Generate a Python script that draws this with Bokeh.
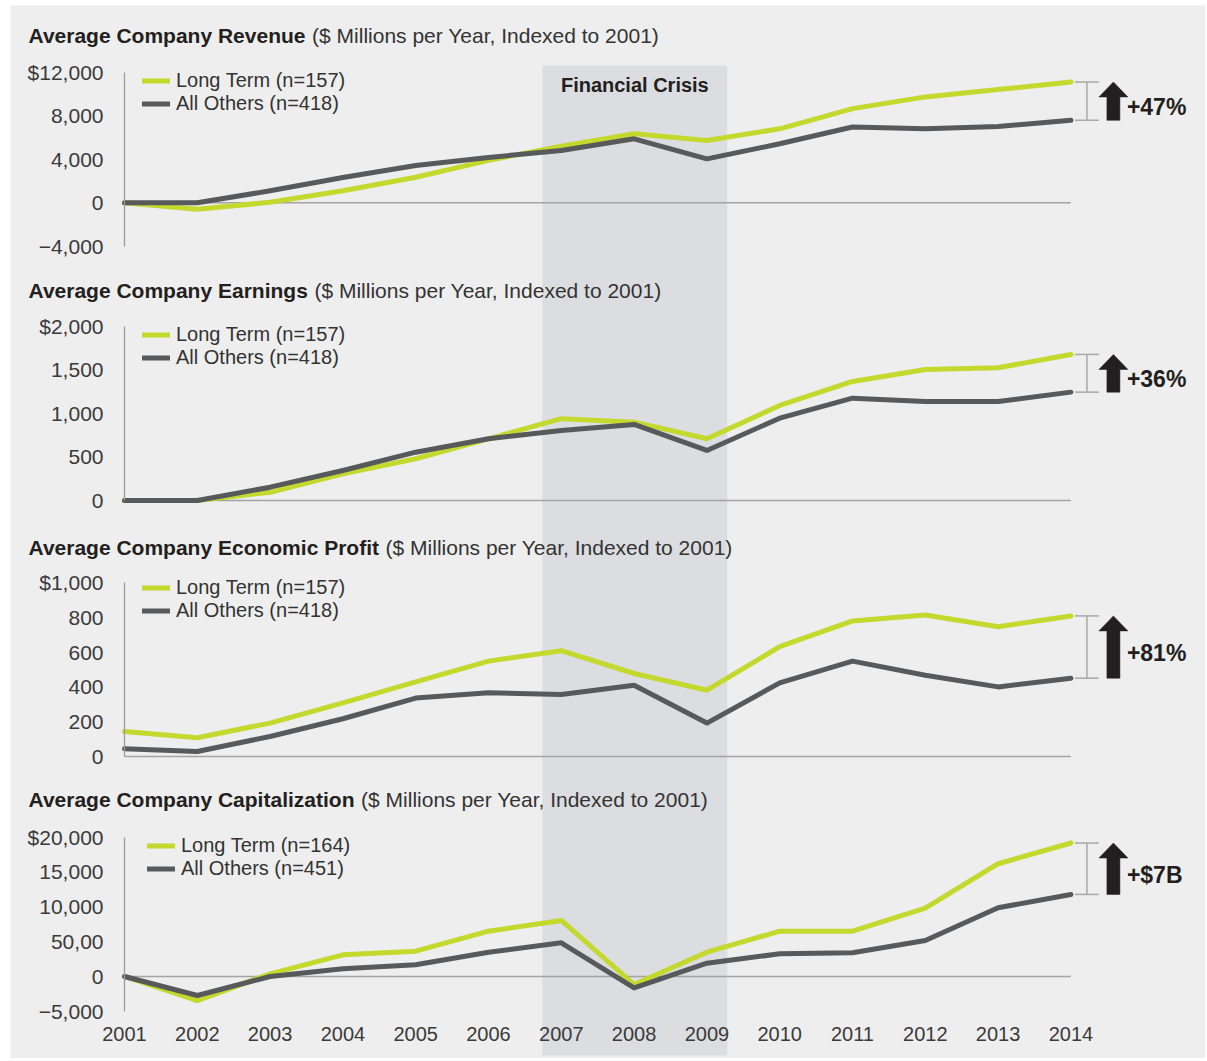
from bokeh.plotting import figure
from bokeh.models import (Range1d, FixedTicker, BoxAnnotation, Label, Legend,
                          LegendItem, LinearAxis)
from bokeh.embed import file_html
from bokeh.resources import INLINE

# ---------------- data ----------------
years = [2001, 2002, 2003, 2004, 2005, 2006, 2007, 2008, 2009, 2010, 2011, 2012, 2013, 2014]

revenue_long = [0, -600, 50, 1100, 2350, 3900, 5200, 6340, 5730, 6800, 8650, 9730, 10400, 11100]
revenue_others = [0, 0, 1100, 2330, 3430, 4170, 4800, 5880, 4040, 5420, 6960, 6800, 7020, 7580]

earnings_long = [0, 0, 95, 307, 480, 709, 940, 900, 709, 1092, 1368, 1506, 1525, 1678]
earnings_others = [0, 0, 153, 345, 555, 709, 805, 874, 575, 946, 1176, 1138, 1138, 1245]

profit_long = [144, 108, 192, 308, 429, 548, 608, 477, 381, 631, 779, 813, 746, 808]
profit_others = [44, 29, 115, 217, 336, 367, 356, 410, 192, 423, 548, 467, 400, 450]

cap_long = [0, -3450, 380, 3110, 3630, 6500, 8040, -1150, 3490, 6500, 6500, 9800, 16170, 19140]
cap_others = [0, -2730, 0, 1100, 1680, 3490, 4830, -1630, 1910, 3250, 3400, 5170, 9860, 11770]

title_bold = ["Average Company Revenue", "Average Company Earnings",
              "Average Company Economic Profit", "Average Company Capitalization"]
title_rest = "($ Millions per Year, Indexed to 2001)"

y_ticks = [[-4000, 0, 4000, 8000, 12000],
           [0, 500, 1000, 1500, 2000],
           [0, 200, 400, 600, 800, 1000],
           [-5000, 0, 5000, 10000, 15000, 20000]]
y_tick_labels = [["\u22124,000", "0", "4,000", "8,000", "$12,000"],
                 ["0", "500", "1,000", "1,500", "$2,000"],
                 ["0", "200", "400", "600", "800", "$1,000"],
                 ["\u22125,000", "0", "50,00", "10,000", "15,000", "$20,000"]]

legend_long = ["Long Term (n=157)", "Long Term (n=157)", "Long Term (n=157)", "Long Term (n=164)"]
legend_others = ["All Others (n=418)", "All Others (n=418)", "All Others (n=418)", "All Others (n=451)"]
gap_labels = ["+47%", "+36%", "+81%", "+$7B"]

crisis_start = 2006.74
crisis_end = 2009.28
crisis_label = "Financial Crisis"

series_long = [revenue_long, earnings_long, profit_long, cap_long]
series_others = [revenue_others, earnings_others, profit_others, cap_others]

# ---------------- style / layout ----------------
FONT = "Liberation Sans"
BG = "#eeeeee"
GREEN = "#c4d82e"
DARK = "#58595b"
SHADE = "#dcdde0"
TXT = "#231f20"
TICK_TXT = "#3a3a3a"
RULE = "#a4a4a4"

# gray panel occupies page x 10..1205, y 5..1058
PAGE_L, PAGE_R, PAGE_T, PAGE_B = 10, 1205, 5, 1058
AXIS_X_PAGE = 124            # page x of the first year
PX_PER_YEAR = 72.8
X_START = years[0] - (AXIS_X_PAGE - PAGE_L) / PX_PER_YEAR
X_END = years[0] + (PAGE_R - AXIS_X_PAGE) / PX_PER_YEAR

# per panel: page y of zero, data units per pixel, title centre y,
# first legend row centre y, legend swatch left x (all page pixels)
panels = [
    dict(zero=202.3, upp=91.88, title=35, leg=80, legx=142),
    dict(zero=500.0, upp=11.49, title=290, leg=334, legx=142),
    dict(zero=756.0, upp=5.747, title=547, leg=587, legx=142),
    dict(zero=976.0, upp=143.4, title=799, leg=845, legx=147),
]

BOLD_W = {" ": 278, "A": 722, "C": 722, "E": 667, "P": 667, "R": 722, "a": 556,
          "c": 556, "e": 556, "f": 333, "g": 611, "i": 278, "l": 278, "m": 889,
          "n": 611, "o": 611, "p": 611, "r": 389, "s": 556, "t": 333, "u": 611,
          "v": 556, "y": 556, "z": 500}
TITLE_SIZE = 21


def bold_width(s, size):
    return sum(BOLD_W.get(ch, 556) for ch in s) / 1000.0 * size


def px_x(page_x):
    return years[0] + (page_x - AXIS_X_PAGE) / PX_PER_YEAR


# the default y range is the page itself (pixels, downward); each panel gets its own range
p = figure(width=PAGE_R, height=PAGE_B, output_backend="svg", toolbar_location=None,
           x_range=Range1d(X_START, X_END), y_range=Range1d(PAGE_B, PAGE_T),
           x_axis_location=None, y_axis_location=None,
           min_border_left=PAGE_L, min_border_right=0, min_border_top=PAGE_T,
           min_border_bottom=0, outline_line_color=None,
           background_fill_color=BG, border_fill_color="white")
p.grid.visible = False

# crisis band across all panels
p.add_layout(BoxAnnotation(left=crisis_start, right=crisis_end, top=65, bottom=1055,
                           fill_color=SHADE, fill_alpha=1.0, line_alpha=0, level="underlay"))

p.add_layout(Label(x=(crisis_start + crisis_end) / 2, y=84, text=crisis_label,
                   text_font=FONT, text_font_size="20px", text_font_style="bold",
                   text_color=TXT, text_align="center", text_baseline="middle"))

for i, cfg in enumerate(panels):
    name = f"panel{i}"
    upp = cfg["upp"]
    p.extra_y_ranges[name] = Range1d((cfg["zero"] - PAGE_B) * upp, (cfg["zero"] - PAGE_T) * upp)

    # y axis at the first year
    yax = LinearAxis(y_range_name=name, fixed_location=years[0],
                     ticker=FixedTicker(ticks=y_ticks[i]),
                     major_label_overrides={t: s for t, s in zip(y_ticks[i], y_tick_labels[i])})
    yax.bounds = (min(y_ticks[i]), max(y_ticks[i]))
    yax.axis_line_color = "#9c9c9c"
    yax.axis_line_width = 1.3
    yax.major_tick_line_color = None
    yax.minor_tick_line_color = None
    yax.major_tick_out = 0
    yax.major_tick_in = 0
    yax.major_label_standoff = 21
    yax.major_label_text_font = FONT
    yax.major_label_text_font_size = "21px"
    yax.major_label_text_color = TICK_TXT
    p.add_layout(yax, "left")

    # zero line
    p.segment(x0=years[0], y0=0, x1=years[-1], y1=0, line_color=RULE, line_width=1.5,
              y_range_name=name)

    lt = series_long[i]
    ao = series_others[i]
    r_lt = p.line(years, lt, line_color=GREEN, line_width=5, line_join="round",
                  line_cap="round", y_range_name=name)
    r_ao = p.line(years, ao, line_color=DARK, line_width=5, line_join="round",
                  line_cap="round", y_range_name=name)

    # legend
    leg_bottom_page = cfg["leg"] - 11.5 + 2 * 23
    legend = Legend(items=[LegendItem(label=legend_long[i], renderers=[r_lt]),
                           LegendItem(label=legend_others[i], renderers=[r_ao])],
                    location=(cfg["legx"] - PAGE_L, PAGE_B - leg_bottom_page),
                    background_fill_alpha=0, border_line_color=None, padding=0, margin=0,
                    spacing=0, glyph_width=28, glyph_height=23, label_height=23,
                    label_standoff=6, label_text_font=FONT, label_text_font_size="20px",
                    label_text_color="#333333", label_text_baseline="middle")
    p.add_layout(legend)

    # bracket between the end values
    xb0 = years[-1] + 4 / PX_PER_YEAR
    xb1 = years[-1] + 28 / PX_PER_YEAR
    xbm = years[-1] + 16 / PX_PER_YEAR
    p.segment(x0=[xb0, xb0, xbm], y0=[lt[-1], ao[-1], lt[-1]],
              x1=[xb1, xb1, xbm], y1=[lt[-1], ao[-1], ao[-1]],
              line_color="#a8a8a8", line_width=1.5, y_range_name=name)

    # up arrow spanning the gap
    xc = years[-1] + 42.5 / PX_PER_YEAR
    sh = 6.5 / PX_PER_YEAR
    hh = 14.5 / PX_PER_YEAR
    hl = 15 * upp
    tip = lt[-1]
    base = ao[-1]
    p.patch(x=[xc - sh, xc - sh, xc - hh, xc, xc + hh, xc + sh, xc + sh],
            y=[base, tip - hl, tip - hl, tip, tip - hl, tip - hl, base],
            fill_color=TXT, line_color=TXT, line_width=0.5, y_range_name=name)

    p.add_layout(Label(x=years[-1] + 56 / PX_PER_YEAR, y=(tip + base) / 2 - 6 * upp,
                       y_range_name=name, text=gap_labels[i], text_font=FONT,
                       text_font_size="23px", text_font_style="bold", text_color=TXT,
                       text_align="left", text_baseline="middle"))

    # panel title: bold part + regular part
    tx = px_x(28)
    p.add_layout(Label(x=tx, y=cfg["title"], text=title_bold[i], text_font=FONT,
                       text_font_size=f"{TITLE_SIZE}px", text_font_style="bold",
                       text_color=TXT, text_align="left", text_baseline="middle"))
    rest_x = px_x(28 + bold_width(title_bold[i] + " ", TITLE_SIZE))
    p.add_layout(Label(x=rest_x, y=cfg["title"], text=title_rest, text_font=FONT,
                       text_font_size=f"{TITLE_SIZE}px", text_color="#333333",
                       text_align="left", text_baseline="middle"))

# year axis at the bottom of the last panel
xax = LinearAxis(ticker=FixedTicker(ticks=years), fixed_location=1020,
                 major_label_overrides={y: str(y) for y in years})
xax.axis_line_color = None
xax.major_tick_line_color = None
xax.minor_tick_line_color = None
xax.major_tick_out = 0
xax.major_tick_in = 0
xax.major_label_standoff = 6
xax.major_label_text_font = FONT
xax.major_label_text_font_size = "20px"
xax.major_label_text_color = TICK_TXT
p.add_layout(xax, "below")

open("out.html", "w").write(file_html(p, INLINE))
